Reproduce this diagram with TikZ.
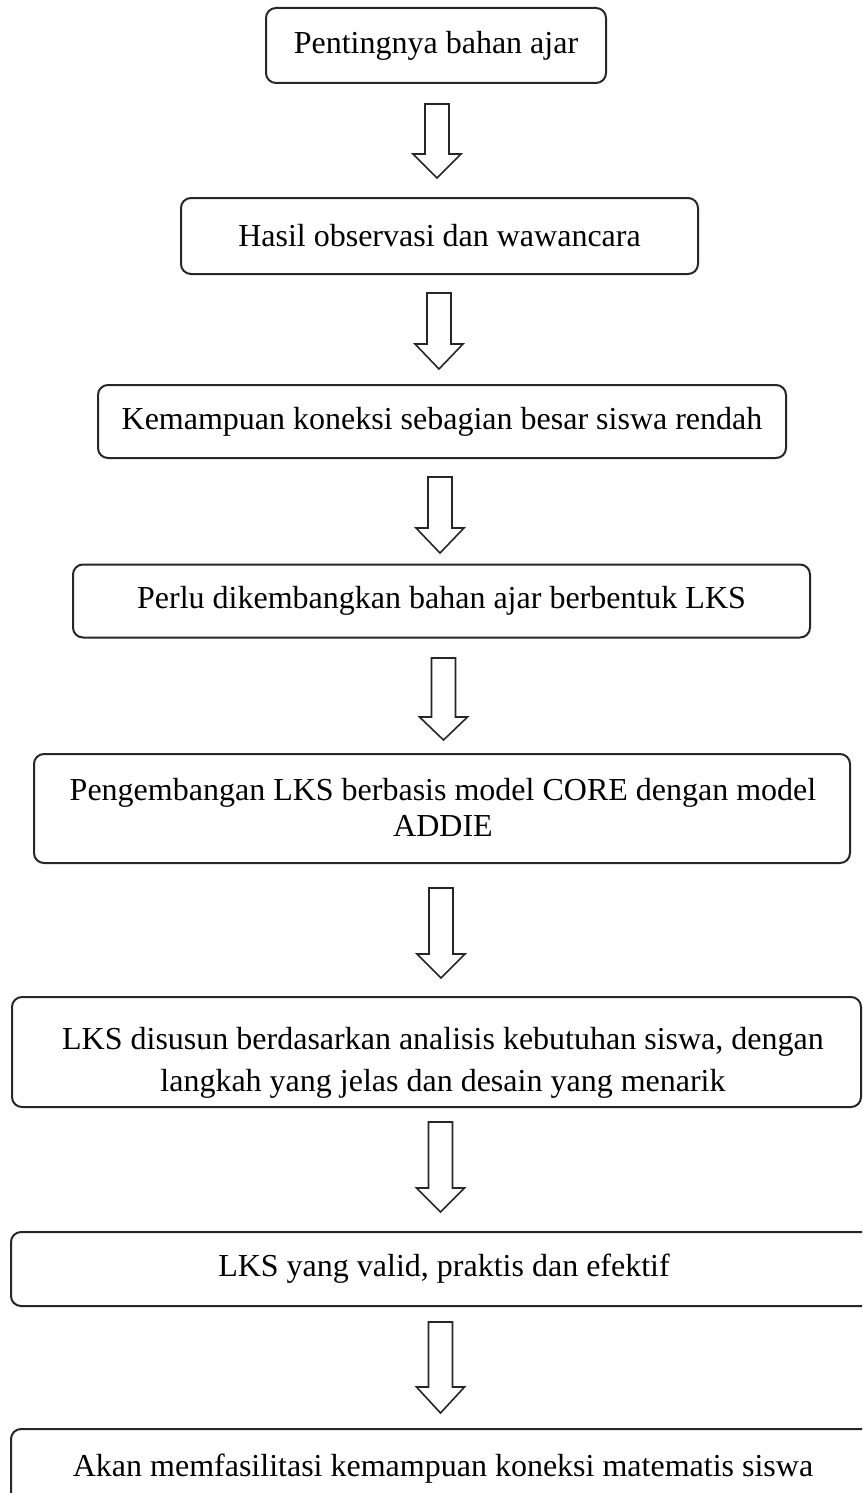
\documentclass[tikz,border=0pt]{standalone}
\usepackage{fontspec}
\setmainfont{Liberation Serif}
\begin{document}
\begin{tikzpicture}[x=0.5pt,y=-0.5pt,
  flowbox/.style={draw=black!85, line width=1pt, rounded corners=5pt, inner sep=0pt,
    align=center, font=\fontsize{16}{20.5}\selectfont},
  flowtext/.style={inner sep=0pt, align=center},
  blockarr/.style={draw=black!85, line width=0.8pt, fill=white, line join=miter}]
\useasboundingbox (0,0) rectangle (862,1493);
\clip (0,0) rectangle (862,1493);
\newcommand{\barrow}[4]{%
  \draw[blockarr] (#1-12,#2) -- (#1+12,#2) -- (#1+12,#3) -- (#1+24,#3) -- (#1,#4)
    -- (#1-24,#3) -- (#1-12,#3) -- cycle;}
% boxes
\node[flowbox, minimum width=170pt, minimum height=37.5pt] (b1) at (436,45.5) {Pentingnya bahan ajar};
\node[flowbox, minimum width=258.5pt, minimum height=38pt] (b2) at (439.5,236) {Hasil observasi dan wawancara};
\node[flowbox, minimum width=344pt, minimum height=36.5pt] (b3) at (442,421.5) {Kemampuan koneksi sebagian besar siswa rendah};
\node[flowbox, minimum width=368.5pt, minimum height=36.5pt] (b4) at (441.5,601) {Perlu dikembangkan bahan ajar berbentuk LKS};
\node[flowbox, minimum width=408pt, minimum height=54.5pt] (b5) at (442,808.5) {};
\node[flowtext, font=\fontsize{16}{18}\selectfont] (t5) at (443,807) {Pengembangan LKS berbasis model CORE dengan model\\ADDIE};
\node[flowbox, minimum width=424.5pt, minimum height=55pt] (b6) at (436.5,1052) {};
\node[flowtext, font=\fontsize{16}{21}\selectfont] (t6) at (443,1063) {LKS disusun berdasarkan analisis kebutuhan siswa, dengan\\langkah yang jelas dan desain yang menarik};
\node[flowbox, minimum width=433pt, minimum height=37pt] (b7) at (444,1269) {LKS yang valid, praktis dan efektif};
\node[flowbox, minimum width=433pt, minimum height=50pt] (b8) at (444,1479) {};
\node[flowtext, font=\fontsize{16}{20.5}\selectfont] (t8) at (443,1469) {Akan memfasilitasi kemampuan koneksi matematis siswa};
% block arrows
\barrow{437}{104}{154}{178}
\barrow{439}{293}{344}{369}
\barrow{440}{477}{528}{553}
\barrow{443.5}{658}{717}{740}
\barrow{441}{888}{954}{978}
\barrow{440.5}{1122}{1188}{1212}
\barrow{440.5}{1322}{1387}{1413}
\end{tikzpicture}
\end{document}
